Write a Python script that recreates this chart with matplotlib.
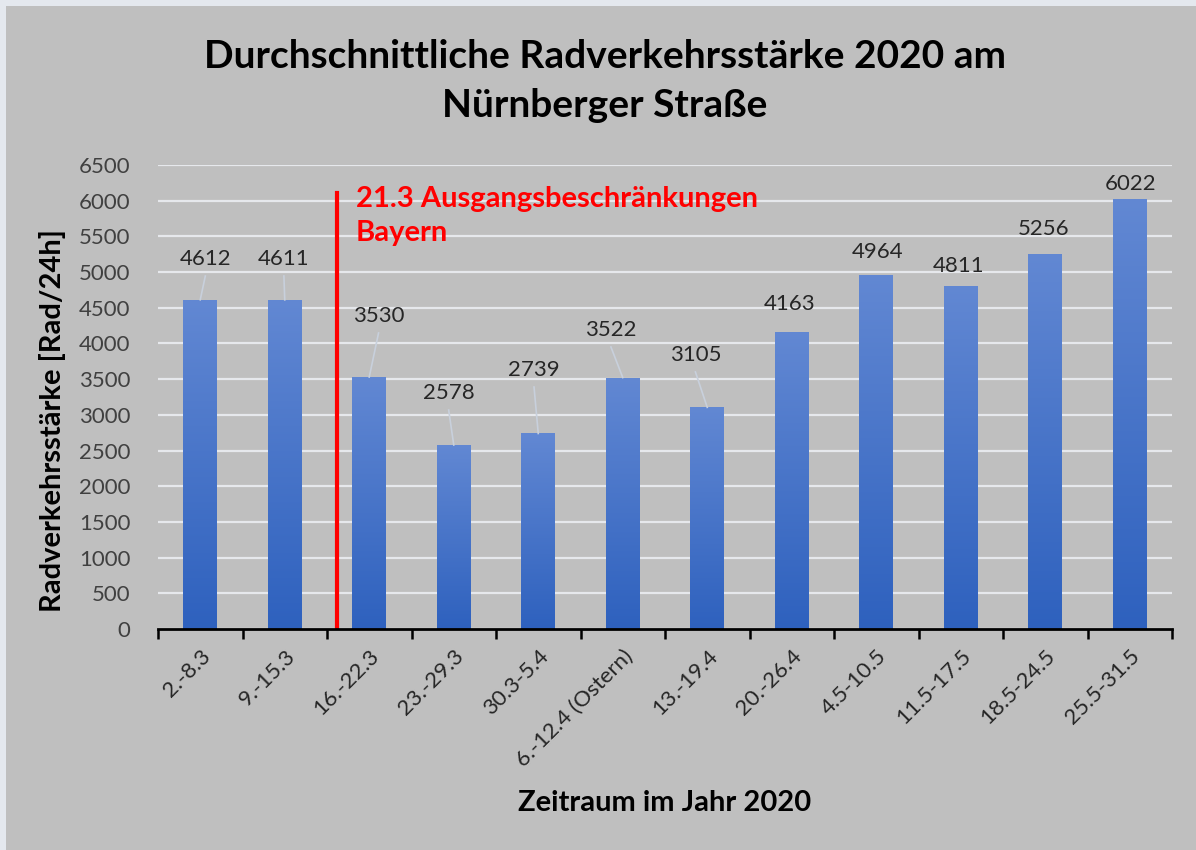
import numpy as np
import matplotlib.pyplot as plt
from matplotlib.colors import LinearSegmentedColormap
from matplotlib.patches import Rectangle

# Daten ---------------------------
zeitraum = ['2.-8.3', '9.-15.3', '16.-22.3', '23.-29.3', '30.3-5.4',
            '6.-12.4 (Ostern)', '13.-19.4', '20.-26.4', '4.5-10.5',
            '11.5-17.5', '18.5-24.5', '25.5-31.5']
radverkehr = [4612, 4611, 3530, 2578, 2739, 3522, 3105, 4163, 4964, 4811, 5256, 6022]

# Lage der Datenbeschriftungen (dx in Kategorien, y in Datenwerten)
label_dx = [0.06, -0.01, 0.11, -0.06, -0.05, -0.14, -0.14, -0.02, 0.01, -0.03, -0.02, 0.01]
label_y = [5183, 5183, 4385, 3306, 3628, 4189, 3839, 4553, 5282, 5085, 5604, 6230]

ausgang_x = 1.62
ausgang_top = 6110
# ---------------------------------

plt.rcParams['font.family'] = ['Lato', 'DejaVu Sans']
bg = '#bfbfbf'

fig = plt.figure(figsize=(11.96, 8.5), dpi=100, facecolor=bg)
ax = fig.add_axes([158/1196, 1-629/850, (1172-158)/1196, (629-165)/850])
ax.set_facecolor(bg)

# Rand oben/links
fig.patches.append(Rectangle((0, 0), 6/1196, 1, transform=fig.transFigure,
                             facecolor='#e4e8ee', edgecolor='none'))
fig.patches.append(Rectangle((0, 1-6/850), 1, 6/850, transform=fig.transFigure,
                             facecolor='#e4e8ee', edgecolor='none'))

x = np.arange(len(zeitraum))

cmap = LinearSegmentedColormap.from_list('bar', ['#2e61be', '#6288d3'])
grad = np.linspace(0, 1, 256).reshape(-1, 1)
bars = ax.bar(x, radverkehr, width=0.4, color='none', zorder=3)
for b in bars:
    x0, w, h = b.get_x(), b.get_width(), b.get_height()
    im = ax.imshow(grad, cmap=cmap, origin='lower', aspect='auto',
                   extent=(x0, x0 + w, 0, h), zorder=3)
    im.set_clip_path(b)
ax.set_xlim(-0.5, len(zeitraum)-0.5)
ax.set_ylim(0, 6500)

# Datenbeschriftungen mit Führungslinien
px_per_unit = 464 / 6500
for i, v in enumerate(radverkehr):
    lx = x[i] + label_dx[i]
    ly = label_y[i]
    ax.text(lx, ly, str(v), ha='center', va='center', fontsize=16,
            color='#262626', zorder=5)
    gap = (ly - v) * px_per_unit
    if gap > 32:
        ax.plot([x[i], lx], [v, ly - 17/px_per_unit], color='#c8d0dc',
                lw=1.2, zorder=4)

ax.set_yticks(np.arange(0, 6501, 500))
ax.grid(axis='y', color='#e6e8ec', lw=1.6, zorder=0)
ax.set_axisbelow(True)
for s in ['top', 'right', 'left']:
    ax.spines[s].set_visible(False)
ax.spines['bottom'].set_color('black')
ax.spines['bottom'].set_linewidth(2)
ax.spines['bottom'].set_zorder(6)

ax.set_xticks(np.arange(-0.5, len(zeitraum), 1))
ax.set_xticklabels([])
ax.tick_params(axis='x', which='major', length=7, width=1.8, color='black')
ax.set_xticks(x, minor=True)
ax.set_xticklabels(zeitraum, minor=True, rotation=45, ha='right',
                   rotation_mode='anchor', fontsize=16, color='#262626')
ax.tick_params(axis='x', which='minor', length=0, pad=12)
ax.tick_params(axis='y', length=0, labelsize=16, labelcolor='#404040', pad=20)

# Ausgangsbeschränkung
ax.plot([ausgang_x, ausgang_x], [0, ausgang_top], color='#ff0000', lw=3, zorder=6)
ax.text(ausgang_x + 0.22, ausgang_top + 100, '21.3 Ausgangsbeschränkungen\nBayern',
        color='#ff0000', fontsize=21, fontweight='bold', ha='left', va='top',
        linespacing=1.4, zorder=6)

fig.text(605/1196, 1-81/850, 'Durchschnittliche Radverkehrsstärke 2020 am\nNürnberger Straße',
         ha='center', va='center', fontsize=28, fontweight='bold', color='black',
         linespacing=1.45)
fig.text(665/1196, 1-803/850, 'Zeitraum im Jahr 2020', ha='center', va='center',
         fontsize=21, fontweight='bold')
fig.text(53/1196, 1-421/850, 'Radverkehrsstärke [Rad/24h]', ha='center', va='center',
         rotation=90, fontsize=21, fontweight='bold')

fig.savefig('out.png', dpi=100, facecolor=bg)
